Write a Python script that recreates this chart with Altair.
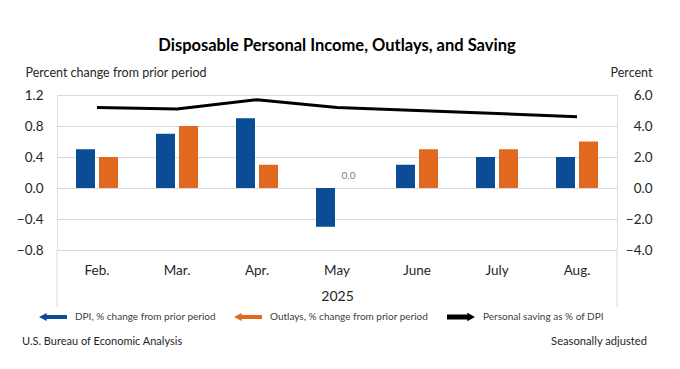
import altair as alt
import pandas as pd

# ---- data ----
months = ["Feb.", "Mar.", "Apr.", "May", "June", "July", "Aug."]
dpi = [0.5, 0.7, 0.9, -0.5, 0.3, 0.4, 0.4]
outlays = [0.4, 0.8, 0.3, 0.0, 0.5, 0.5, 0.6]
saving = [5.2, 5.1, 5.7, 5.2, 5.0, 4.8, 4.6]
series_names = [
    "DPI, % change from prior period",
    "Outlays, % change from prior period",
    "Personal saving as % of DPI",
]
colors = ["#0B4C96", "#E0691F", "#000000"]
left_ticks = [-0.8, -0.4, 0.0, 0.4, 0.8, 1.2]
right_ticks = [-4.0, -2.0, 0.0, 2.0, 4.0, 6.0]
year_label = "2025"
title_text = "Disposable Personal Income, Outlays, and Saving"
left_axis_title = "Percent change from prior period"
right_axis_title = "Percent"
source_text = "U.S. Bureau of Economic Analysis"
note_text = "Seasonally adjusted"

FONT = "Lato"
TXT = "#262626"
GRID = "#d9d9d9"

bars_df = pd.DataFrame(
    {
        "month": months * 2,
        "series": [series_names[0]] * len(months) + [series_names[1]] * len(months),
        "value": dpi + outlays,
    }
)
line_df = pd.DataFrame({"month": months, "saving": saving})
legend_df = pd.DataFrame({"entry": series_names})

arrow_left = "M-1,0 L-0.45,-0.28 L-0.45,-0.15 L1,-0.15 L1,0.15 L-0.45,0.15 L-0.45,0.28 Z"
arrow_right = "M1,0 L0.45,-0.3 L0.45,-0.17 L-1,-0.17 L-1,0.17 L0.45,0.17 L0.45,0.3 Z"

x_axis = alt.Axis(
    title=year_label,
    labelAngle=0,
    labelFont=FONT,
    labelFontSize=13.5,
    labelColor=TXT,
    labelPadding=13,
    domain=False,
    ticks=False,
    titleFont=FONT,
    titleFontSize=14,
    titleFontWeight="normal",
    titleColor=TXT,
    titlePadding=13,
)
x_enc = alt.X(
    "month:N",
    sort=months,
    scale=alt.Scale(paddingInner=0.475, paddingOuter=0.2375),
    axis=x_axis,
)
xoff_enc = alt.XOffset(
    "series:N", sort=series_names[:2], scale=alt.Scale(paddingInner=0.1739, paddingOuter=0)
)
y_left = alt.Y(
    "value:Q",
    scale=alt.Scale(domain=[left_ticks[0], left_ticks[-1]], nice=False),
    axis=alt.Axis(
        values=left_ticks,
        format=".1f",
        title=left_axis_title,
        titleAngle=0,
        titleAlign="left",
        titleBaseline="middle",
        titleX=-32,
        titleY=-23,
        titleFont=FONT,
        titleFontSize=12.5,
        titleFontWeight="normal",
        titleColor=TXT,
        labelFont=FONT,
        labelFontSize=13.5,
        labelColor=TXT,
        labelPadding=14,
        ticks=False,
        domain=False,
        gridColor=GRID,
        gridWidth=1,
    ),
)

bars = alt.Chart(bars_df).mark_bar().encode(
    x=x_enc,
    xOffset=xoff_enc,
    y=y_left,
    color=alt.Color(
        "series:N",
        scale=alt.Scale(domain=series_names[:2], range=colors[:2]),
        legend=None,
    ),
)

zero_text = (
    alt.Chart(bars_df)
    .transform_filter(alt.datum.value == 0)
    .mark_text(font=FONT, fontSize=10, color="#808080", dy=-12)
    .encode(x=x_enc, xOffset=xoff_enc, y=y_left, text=alt.Text("value:Q", format=".1f"))
)

box_l = alt.Chart(legend_df.head(1)).mark_rule(color=GRID, strokeWidth=1).encode(
    x=alt.value(0), y=alt.value(155), y2=alt.value(212)
)
box_r = alt.Chart(legend_df.head(1)).mark_rule(color=GRID, strokeWidth=1).encode(
    x=alt.value(560), y=alt.value(155), y2=alt.value(212)
)

src = (
    alt.Chart(pd.DataFrame({"t": [source_text]}))
    .mark_text(font=FONT, fontSize=11, color=TXT, align="left", baseline="middle")
    .encode(x=alt.value(-35), y=alt.value(247), text="t:N")
)
note = (
    alt.Chart(pd.DataFrame({"t": [note_text]}))
    .mark_text(font=FONT, fontSize=11.2, color=TXT, align="right", baseline="middle")
    .encode(x=alt.value(590), y=alt.value(247), text="t:N")
)

left_group = alt.layer(box_l, box_r, bars, zero_text, src, note)

line = alt.Chart(line_df).mark_line(color="black", strokeWidth=3).encode(
    x=x_enc,
    y=alt.Y(
        "saving:Q",
        scale=alt.Scale(domain=[right_ticks[0], right_ticks[-1]], nice=False),
        axis=alt.Axis(
            orient="right",
            values=right_ticks,
            format=".1f",
            title=right_axis_title,
            titleAngle=0,
            titleAlign="right",
            titleBaseline="middle",
            titleX=35,
            titleY=-23,
            titleFont=FONT,
            titleFontSize=12.5,
            titleFontWeight="normal",
            titleColor=TXT,
            labelFont=FONT,
            labelFontSize=13.5,
            labelColor=TXT,
            labelAlign="right",
            labelPadding=35,
            ticks=False,
            domain=False,
            grid=False,
        ),
    ),
)

legend_props = dict(
    title=None,
    orient="none",
    legendX=-18,
    legendY=208,
    direction="horizontal",
    labelFont=FONT,
    labelFontSize=10,
    labelFontWeight="normal",
    labelColor="#404040",
    labelOffset=8,
    columnPadding=18,
    symbolStrokeWidth=0,
    symbolSize=784,
)
legend_pts = (
    alt.Chart(legend_df)
    .transform_filter("false")
    .mark_point(filled=True, size=784, opacity=1, strokeWidth=0)
    .encode(
        color=alt.Color(
            "entry:N",
            sort=series_names,
            scale=alt.Scale(domain=series_names, range=colors),
            legend=alt.Legend(**legend_props),
        ),
        shape=alt.Shape(
            "entry:N",
            sort=series_names,
            scale=alt.Scale(domain=series_names, range=[arrow_left, arrow_left, arrow_right]),
            legend=alt.Legend(**legend_props),
        ),
    )
)

chart = (
    alt.layer(left_group, line, legend_pts)
    .resolve_scale(y="independent", color="independent", shape="independent")
    .properties(
        width=560,
        height=155,
        padding={"left": 49, "top": 87, "right": 55, "bottom": 111},
        autosize=alt.AutoSizeParams(type="none"),
        title=alt.TitleParams(
            text=title_text,
            font=FONT,
            fontSize=16.5,
            fontWeight="bold",
            color="#000000",
            anchor="middle",
            frame="group",
            offset=12,
        ),
    )
    .configure_view(stroke=None)
    .configure(background="white")
)

chart.save("out.html", embed_options={"renderer": "svg", "actions": False})
